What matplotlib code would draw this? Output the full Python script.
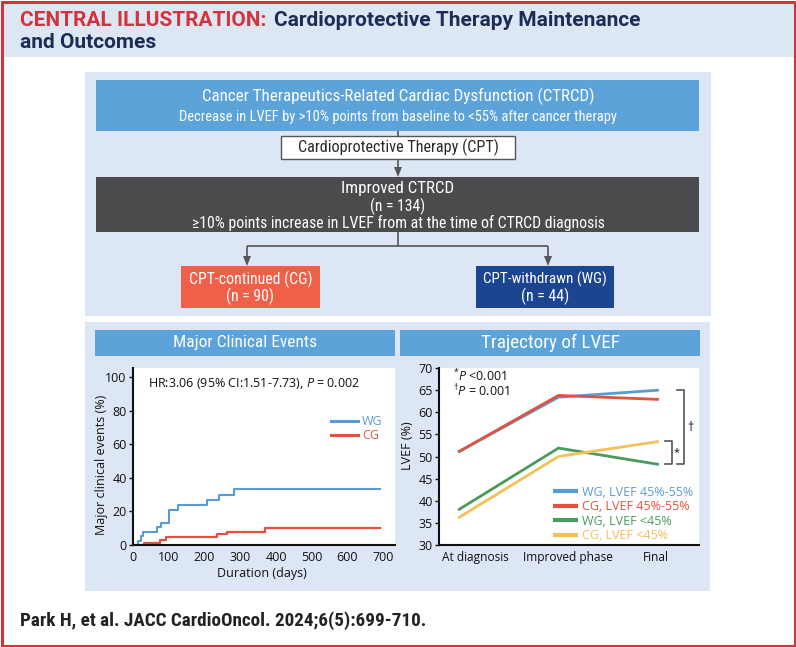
import matplotlib
matplotlib.use('Agg')
import matplotlib.pyplot as plt
from matplotlib import font_manager as fm
from matplotlib.patches import Rectangle, Polygon
import matplotlib.transforms as mtransforms

# ---------------- data ----------------
km_wg_days = [0, 14, 22, 29, 68, 78, 101, 126, 208, 241, 283, 690]
km_wg_events = [0, 2.4, 5.3, 7.9, 10.5, 13.0, 21.0, 23.7, 26.6, 30.0, 33.3, 33.3]
km_cg_days = [0, 31, 76, 92, 236, 262, 368, 690]
km_cg_events = [0, 1.1, 2.8, 4.6, 6.3, 7.8, 10.0, 10.0]
km_xticks = [0, 100, 200, 300, 400, 500, 600, 700]
km_yticks = [0, 20, 40, 60, 80, 100]
km_labels = ['WG', 'CG']

lvef_phases = ['At diagnosis', 'Improved phase', 'Final']
lvef_wg_mid = [51.0, 63.4, 65.0]
lvef_cg_mid = [51.0, 63.8, 62.9]
lvef_wg_low = [37.9, 51.9, 48.2]
lvef_cg_low = [36.1, 50.0, 53.4]
lvef_labels = ['WG, LVEF 45%-55%', 'CG, LVEF 45%-55%', 'WG, LVEF <45%', 'CG, LVEF <45%']
lvef_yticks = [30, 35, 40, 45, 50, 55, 60, 65, 70]

title_red = 'CENTRAL ILLUSTRATION:'
title_navy1 = 'Cardioprotective Therapy Maintenance'
title_navy2 = 'and Outcomes'
box1_l1 = 'Cancer Therapeutics-Related Cardiac Dysfunction (CTRCD)'
box1_l2 = 'Decrease in LVEF by >10% points from baseline to <55% after cancer therapy'
box_cpt = 'Cardioprotective Therapy (CPT)'
box2_l1 = 'Improved CTRCD'
box2_l2 = '(n = 134)'
box2_l3 = '\u226510% points increase in LVEF from at the time of CTRCD diagnosis'
cg_l1, cg_l2 = 'CPT-continued (CG)', '(n = 90)'
wg_l1, wg_l2 = 'CPT-withdrawn (WG)', '(n = 44)'
hdr_left = 'Major Clinical Events'
hdr_right = 'Trajectory of LVEF'
citation = 'Park H, et al. JACC CardioOncol. 2024;6(5):699-710.'

# ---------------- styles ----------------
W, H = 796, 647
RED_BORDER = '#d1343c'
HEADER_BG = '#dde6f3'
PANEL_BG = '#dce6f4'
TITLE_RED = '#d2333c'
NAVY = '#1b2d57'
BLUE_BOX = '#5ba3d9'
DARK_BOX = '#4b4b4d'
CG_BOX = '#f05f48'
WG_BOX = '#1b4590'
LINE = '#555555'
C_BLUE = '#5b9bd5'
C_RED = '#e0533f'
C_GREEN = '#4a9a5c'
C_YELLOW = '#f5bf5a'

names = {}
for f in fm.fontManager.ttflist:
    names.setdefault(f.name, set()).add(str(f.stretch))

def pick_condensed():
    for fam in ['Roboto Condensed', 'Liberation Sans Narrow', 'Noto Sans Condensed',
                'Open Sans Condensed', 'DejaVu Sans Condensed']:
        if fam in names:
            return dict(family=[fam, 'DejaVu Sans'])
    for fam in ['Noto Sans', 'DejaVu Sans', 'Open Sans', 'Roboto']:
        if fam in names:
            for st in ('condensed', 'semi-condensed', 'extra-condensed'):
                if st in names[fam]:
                    return dict(family=[fam, 'DejaVu Sans'], fontstretch=st)
    return dict(family=['Roboto', 'DejaVu Sans'])

COND = pick_condensed()
TITLE_FONT = dict(family=['Roboto' if 'Roboto' in names else 'DejaVu Sans', 'DejaVu Sans'])
CHART_FAM = 'Open Sans' if 'Open Sans' in names else 'DejaVu Sans'

plt.rcParams['font.family'] = [CHART_FAM, 'DejaVu Sans']
plt.rcParams['mathtext.fontset'] = 'custom'
plt.rcParams['mathtext.rm'] = CHART_FAM
plt.rcParams['mathtext.it'] = CHART_FAM + ':italic'
plt.rcParams['mathtext.bf'] = CHART_FAM + ':bold'

fig = plt.figure(figsize=(W / 100, H / 100), dpi=100)
fig.patch.set_facecolor('white')
R = fig.canvas.get_renderer()

bg = fig.add_axes([0, 0, 1, 1], zorder=0)
bg.set_xlim(0, W)
bg.set_ylim(H, 0)
bg.axis('off')


def rect(x0, y0, x1, y1, fc, ec='none', lw=0, z=1):
    bg.add_patch(Rectangle((x0, y0), x1 - x0, y1 - y0, facecolor=fc,
                           edgecolor=ec, linewidth=lw, zorder=z))


def ftext(x, y, s, target_w, color, ha='center', va='center', weight='normal', size0=10,
          font=None):
    font = COND if font is None else font
    t = bg.text(x, y, s, color=color, ha=ha, va=va, fontweight=weight,
                fontsize=size0, zorder=5, **font)
    w = t.get_window_extent(renderer=R).width
    t.set_fontsize(size0 * target_w / w)
    return t


def vline(x, y0, y1):
    bg.plot([x, x], [y0, y1], color=LINE, lw=1.2, solid_capstyle='butt', zorder=3)


def hline(x0, x1, y):
    bg.plot([x0, x1], [y, y], color=LINE, lw=1.2, solid_capstyle='butt', zorder=3)


def arrow_down(x, y0, y1):
    vline(x, y0, y1 - 8)
    bg.add_patch(Polygon([[x - 4, y1 - 10], [x + 4, y1 - 10], [x, y1]], closed=True,
                         facecolor=LINE, edgecolor='none', zorder=3))


# header
rect(2, 2, W - 2, 57, HEADER_BG)
t_red = ftext(20, 21, title_red, 280, TITLE_RED, ha='left', weight='bold', size0=13,
              font=TITLE_FONT)
t_n1 = ftext(309, 21, title_navy1, 351, NAVY, ha='left', weight='bold', size0=13,
             font=TITLE_FONT)
TS = min(15.0, (t_red.get_fontsize() + t_n1.get_fontsize()) / 2)
t_red.set_fontsize(TS)
t_n1.set_fontsize(TS)
red_w = t_red.get_window_extent(renderer=R).width
t_n1.set_x(20 + red_w + 8)
bg.text(20, 42.5, title_navy2, color=NAVY, ha='left', va='center', fontweight='bold',
        fontsize=TS, zorder=5, **TITLE_FONT)

# upper panel
rect(85, 72, 711, 316, PANEL_BG)
rect(96, 80, 699, 131, BLUE_BOX)
ftext(398, 96, box1_l1, 391, 'white', size0=11)
ftext(398, 117, box1_l2, 439, 'white', size0=9)
vline(398, 131, 136)
rect(281, 136, 515, 159, 'white', ec=LINE, lw=1.0, z=2)
ftext(398, 147.5, box_cpt, 201, '#2a2a2a', size0=10)
arrow_down(398, 159, 177)
rect(96, 177, 699, 232, DARK_BOX)
ftext(398, 189, box2_l1, 113, 'white', size0=11)
ftext(398, 206, box2_l2, 55, 'white', size0=10)
ftext(398, 223, box2_l3, 410, 'white', size0=10)
vline(398, 232, 246)
hline(247, 548, 246)
arrow_down(247, 246, 266)
arrow_down(548, 246, 266)
rect(181, 266, 320, 308, CG_BOX)
ftext(250.5, 279, cg_l1, 123, 'white', size0=10)
ftext(250.5, 296, cg_l2, 48, 'white', size0=10)
rect(476, 266, 614, 308, WG_BOX)
ftext(545, 279, wg_l1, 124, 'white', size0=10)
ftext(545, 296, wg_l2, 48, 'white', size0=10)

# lower panel
rect(85, 322, 710, 591, PANEL_BG)
rect(95, 330, 395, 356, BLUE_BOX)
rect(400, 330, 700, 356, BLUE_BOX)
ftext(245, 343, hdr_left, 143, 'white', size0=11)
ftext(550, 343, hdr_right, 138, 'white', size0=11)

# citation
ftext(20, 621, citation, 405, '#222222', ha='left', weight='semibold', size0=11)

# border
bg.add_patch(Rectangle((1.5, 1.5), W - 3, H - 3, facecolor='none', edgecolor=RED_BORDER,
                       linewidth=2.2, zorder=10))


def style_axes(ax):
    ax.set_facecolor('white')
    for s in ['top', 'right']:
        ax.spines[s].set_visible(False)
    for s in ['left', 'bottom']:
        ax.spines[s].set_linewidth(1.5)
        ax.spines[s].set_color('#111111')
    ax.tick_params(axis='y', direction='out', length=3, width=1, pad=1.5,
                   labelsize=9, colors='#111111')
    ax.tick_params(axis='x', length=0, pad=4, labelsize=9, colors='#111111')


# KM chart
ax1 = fig.add_axes([133 / W, (H - 545) / H, (395 - 133) / W, (545 - 368) / H], zorder=2)
style_axes(ax1)
ax1.plot(km_wg_days, km_wg_events, drawstyle='steps-post', color=C_BLUE, lw=1.5,
         label=km_labels[0])
ax1.plot(km_cg_days, km_cg_events, drawstyle='steps-post', color=C_RED, lw=1.6,
         label=km_labels[1])
ax1.set_xlim(0, 733)
ax1.set_ylim(0, 105.4)
ax1.set_xticks(km_xticks)
ax1.set_yticks(km_yticks)
ax1.set_xlabel('Duration (days)', fontsize=9, color='#111111')
ax1.set_ylabel('Major clinical events (%)', fontsize=9, color='#111111')
ax1.xaxis.set_label_coords(0.49, -0.125)
ax1.yaxis.set_label_coords(-0.095, 0.45)
ax1.text(0.057, 0.915, r'HR:3.06 (95% CI:1.51-7.73), $\mathit{P}$ = 0.002', transform=ax1.transAxes,
         ha='left', va='center', fontsize=9, color='#111111')
leg1 = ax1.legend(loc='upper left', bbox_to_anchor=(0.755, 0.735), frameon=False,
                  handlelength=2.2, handletextpad=0.3, borderpad=0, borderaxespad=0,
                  labelspacing=0.1, labelcolor='linecolor', fontsize=9)
for ln in leg1.get_lines():
    ln.set_linewidth(2.2)

# LVEF chart
ax2 = fig.add_axes([439 / W, (H - 545) / H, (699 - 439) / W, (545 - 368) / H], zorder=2)
style_axes(ax2)
xs = list(range(len(lvef_phases)))
series = [lvef_wg_mid, lvef_cg_mid, lvef_wg_low, lvef_cg_low]
cols = [C_BLUE, C_RED, C_GREEN, C_YELLOW]
for ys, c, lab in zip(series, cols, lvef_labels):
    ax2.plot(xs, ys, color=c, lw=2.0, label=lab, solid_capstyle='butt')
ax2.set_xlim(-0.19, 2.4)
ax2.set_ylim(30, 70)
ax2.set_yticks(lvef_yticks)
ax2.set_xticks(xs)
ax2.set_xticklabels(lvef_phases, fontsize=8.6)
label_shift_px = [17, 9, -3]
for lab, dx in zip(ax2.get_xticklabels(), label_shift_px):
    lab.set_transform(lab.get_transform() +
                      mtransforms.ScaledTranslation(dx / 100, 0, fig.dpi_scale_trans))
ax2.set_ylabel('LVEF (%)', fontsize=9, color='#111111')
ax2.yaxis.set_label_coords(-0.098, 0.56)
ax2.text(0.054, 0.956, r'${}^{*}\mathit{P}$ <0.001', transform=ax2.transAxes,
         ha='left', va='center', fontsize=9, color='#111111')
ax2.text(0.054, 0.872, r'${}^{\dagger}\mathit{P}$ = 0.001', transform=ax2.transAxes,
         ha='left', va='center', fontsize=9, color='#111111')
leg2 = ax2.legend(loc='upper left', bbox_to_anchor=(0.437, 0.335), frameon=False,
                  handlelength=2.0, handletextpad=0.35, borderpad=0, borderaxespad=0,
                  labelspacing=0.12, labelcolor='linecolor', fontsize=9)
for ln in leg2.get_lines():
    ln.set_linewidth(3)

# significance brackets
bt = ax2.get_yaxis_transform()  # x axes, y data
finals = [s[-1] for s in series]
top_d, bot_d = max(finals), min(finals)
top_s, bot_s = lvef_cg_low[-1], lvef_wg_low[-1]
ax2.plot([0.914, 0.942, 0.942, 0.914], [top_d, top_d, bot_d, bot_d], transform=bt,
         color=LINE, lw=1.2, clip_on=False)
ax2.text(0.968, (top_d + bot_d) / 2, '\u2020', transform=bt, ha='center', va='center',
         fontsize=9, color='#111111')
ax2.plot([0.869, 0.896, 0.896, 0.869], [top_s, top_s, bot_s, bot_s], transform=bt,
         color=LINE, lw=1.2, clip_on=False)
ax2.text(0.914, (top_s + bot_s) / 2, '*', transform=bt, ha='center', va='center',
         fontsize=8, color='#111111')

fig.savefig('out.png', dpi=100, facecolor='white')
